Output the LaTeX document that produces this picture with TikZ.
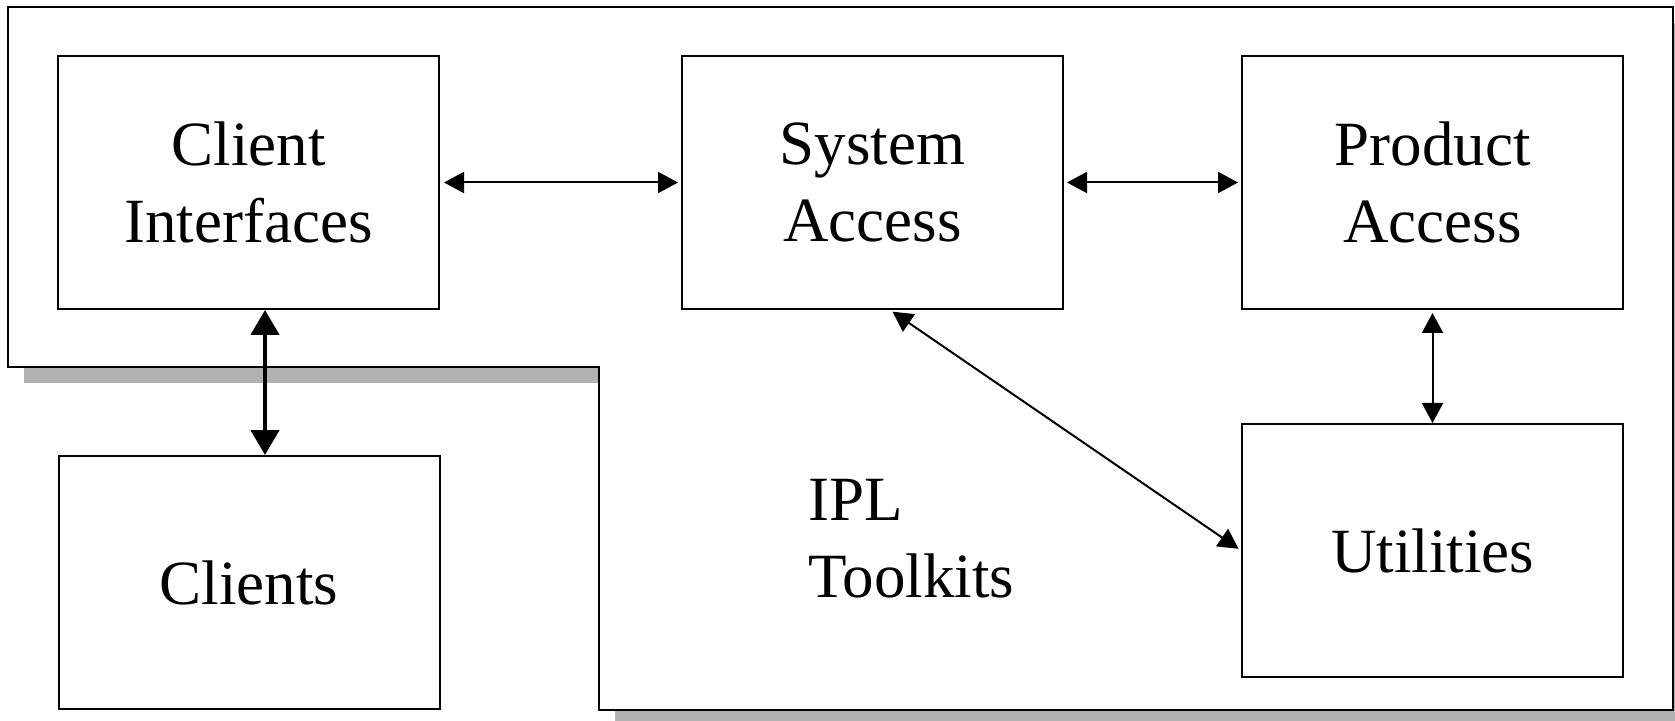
\documentclass[tikz,border=0pt]{standalone}
\usepackage{fontspec}
\setmainfont{Liberation Serif}
\usetikzlibrary{arrows.meta,calc}
\begin{document}
\begin{tikzpicture}[x=0.5pt,y=-0.5pt,
  box/.style={draw=black,line width=1pt,fill=white,minimum width=190.5pt,minimum height=126.5pt,inner sep=0pt,align=center,font=\fontsize{31.5pt}{38.5pt}\selectfont},
  thin/.style={line width=1pt,{Triangle[length=10pt,width=10.5pt]}-{Triangle[length=10pt,width=10.5pt]}},
  thick/.style={line width=2.3pt,{Triangle[length=12.5pt,width=14pt]}-{Triangle[length=12.5pt,width=14pt]}}]
\useasboundingbox (0,0) rectangle (1675,721);
\fill[white] (0,0) rectangle (1675,721);
% shadow
\fill[black!30] (24,23) -- (1689,23) -- (1689,726) -- (615,726) -- (615,383) -- (24,383) -- cycle;
% outer frame
\draw[line width=1pt,fill=white] (8,7) -- (1673,7) -- (1673,710) -- (599,710) -- (599,367) -- (8,367) -- cycle;
% boxes
\node[box] (ci) at (248.5,182.5) {Client\\Interfaces};
\node[box] (sa) at (872.5,182.5) {System\\Access};
\node[box] (pa) at (1432.5,182.5) {Product\\Access};
\node[box] (ut) at (1432.5,550.5) {Utilities};
\node[box] (cl) at (249,582.5) {Clients};
\node[anchor=west,align=left,inner sep=0pt,font=\fontsize{31.5pt}{38.5pt}\selectfont] (ipl) at (808,539) {IPL\\Toolkits};
% connectors
\draw[thin,shorten <=2pt,shorten >=1.5pt] (ci.east) -- (sa.west);
\draw[thin,shorten <=1.5pt,shorten >=1.5pt] (sa.east) -- (pa.west);
\draw[thin,shorten <=1.5pt,shorten >=0pt] (pa.south) -- (ut.north);
\draw[thick] ([xshift=8.25pt]ci.south) -- ([xshift=8.25pt]ci.south |- cl.north);
\draw[thin,shorten <=1.5pt,shorten >=1.5pt] ([xshift=8.75pt]sa.south) -- (ut.west);
\end{tikzpicture}
\end{document}
